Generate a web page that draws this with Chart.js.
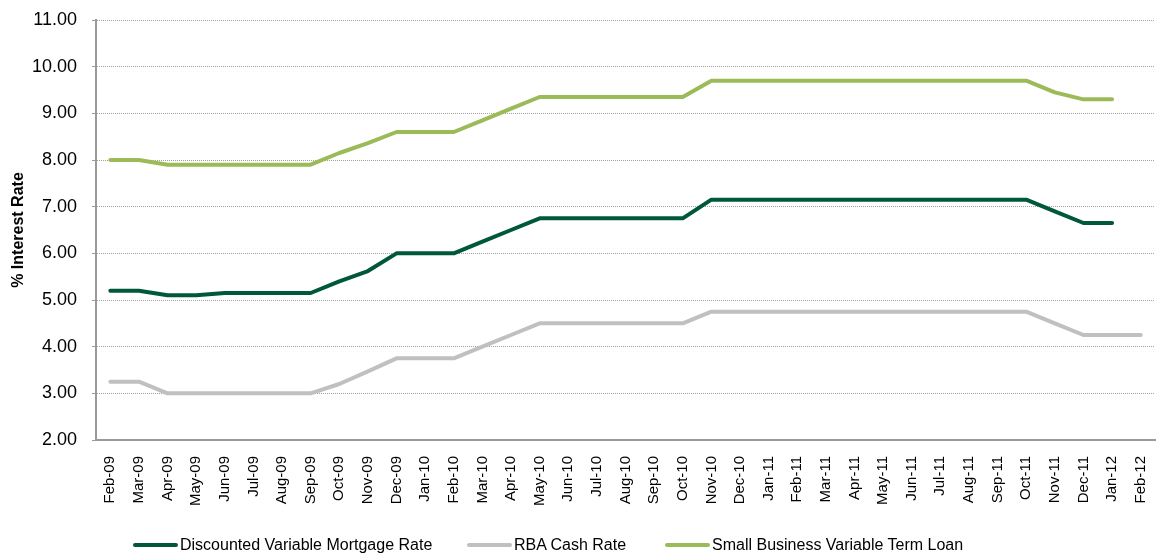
<!DOCTYPE html>
<html>
<head>
<meta charset="utf-8">
<script src="https://cdn.jsdelivr.net/npm/chart.js@4/dist/chart.umd.min.js"></script>
<style>
  html, body { margin:0; padding:0; background:#fff; }
  #wrap { position:relative; width:1160px; height:554px; }
  #legend { position:absolute; left:0; top:533px; width:1160px; height:24px;
    font-family:'Liberation Sans',Arial,sans-serif; font-size:16px; color:#000; }
  .item { position:absolute; top:0; white-space:nowrap; line-height:24px; }
  .swatch { display:inline-block; width:45px; height:4px; border-radius:2px; vertical-align:middle; margin-right:2px; position:relative; top:-1px; }
</style>
</head>
<body>
<div id="wrap">
  <canvas id="c" width="1160" height="554"></canvas>
  <div id="legend"></div>
</div>
<script>
var months = ['Feb-09','Mar-09','Apr-09','May-09','Jun-09','Jul-09','Aug-09','Sep-09','Oct-09','Nov-09','Dec-09',
  'Jan-10','Feb-10','Mar-10','Apr-10','May-10','Jun-10','Jul-10','Aug-10','Sep-10','Oct-10','Nov-10','Dec-10',
  'Jan-11','Feb-11','Mar-11','Apr-11','May-11','Jun-11','Jul-11','Aug-11','Sep-11','Oct-11','Nov-11','Dec-11',
  'Jan-12','Feb-12']

var mortgageRate = [5.20,5.20,5.10,5.10,5.15,5.15,5.15,5.15,5.40,5.62,6.00,
  6.00,6.00,6.25,6.50,6.75,6.75,6.75,6.75,6.75,6.75,7.15,7.15,
  7.15,7.15,7.15,7.15,7.15,7.15,7.15,7.15,7.15,7.15,6.90,6.65,
  6.65,null]

var cashRate = [3.25,3.25,3.00,3.00,3.00,3.00,3.00,3.00,3.20,3.47,3.75,
  3.75,3.75,4.00,4.25,4.50,4.50,4.50,4.50,4.50,4.50,4.75,4.75,
  4.75,4.75,4.75,4.75,4.75,4.75,4.75,4.75,4.75,4.75,4.50,4.25,
  4.25,4.25]

var businessLoan = [8.00,8.00,7.90,7.90,7.90,7.90,7.90,7.90,8.15,8.36,8.60,
  8.60,8.60,8.85,9.10,9.35,9.35,9.35,9.35,9.35,9.35,9.70,9.70,
  9.70,9.70,9.70,9.70,9.70,9.70,9.70,9.70,9.70,9.70,9.45,9.30,
  9.30,null]

var seriesNames = ['Discounted Variable Mortgage Rate','RBA Cash Rate','Small Business Variable Term Loan']
var seriesColors = ['#00583b','#c0c0c0','#9bbb59']

var FONT = "'Liberation Sans',Arial,sans-serif"

function line(label, data, color){
  return {
    label: label, data: data,
    borderColor: color, backgroundColor: color,
    borderWidth: 4, pointRadius: 0, pointHoverRadius: 0,
    borderCapStyle: 'round', borderJoinStyle: 'round',
    tension: 0, fill: false, spanGaps: false
  }
}

new Chart(document.getElementById('c'), {
  type: 'line',
  data: {
    labels: months,
    datasets: [
      line(seriesNames[0], mortgageRate, seriesColors[0]),
      line(seriesNames[1], cashRate, seriesColors[1]),
      line(seriesNames[2], businessLoan, seriesColors[2])
    ]
  },
  options: {
    responsive: false,
    animation: false,
    events: [],
    layout: { padding: { left: 9, right: 5, top: 20, bottom: 30 } },
    plugins: { legend: { display: false }, tooltip: { enabled: false } },
    scales: {
      x: {
        offset: true,
        grid: { display: false },
        border: { display: true, color: '#9a9a9a', width: 2 },
        ticks: {
          autoSkip: false, minRotation: 90, maxRotation: 90, padding: 8,
          color: '#000', font: { family: FONT, size: 15 }
        },
        afterFit: function(s){ s.height = 84; s.paddingLeft = 0; s.paddingRight = 0 }
      },
      y: {
        min: 2, max: 11,
        grid: { color: '#a0a0a0', lineWidth: 1, tickLength: 4, tickColor: '#9a9a9a', tickBorderDash: [] },
        border: { display: true, color: '#9a9a9a', width: 2, dash: [1, 1] },
        ticks: {
          stepSize: 1, padding: 15, color: '#000',
          font: { family: FONT, size: 18 },
          callback: function(v){ return v.toFixed(2) }
        },
        title: {
          display: true, text: '% Interest Rate', color: '#000',
          font: { family: FONT, size: 16, weight: 'bold' }, padding: { top: 0, bottom: 0 }
        },
        afterFit: function(s){ s.width = 87; s.paddingTop = 0; s.paddingBottom = 0 }
      }
    }
  }
})

// legend as html text
var legendX = [133, 467, 665]
var lg = document.getElementById('legend')
seriesNames.forEach(function(name, i){
  var d = document.createElement('div')
  d.className = 'item'
  d.style.left = legendX[i] + 'px'
  d.innerHTML = '<span class="swatch" style="background:' + seriesColors[i] + '"></span>' + name
  lg.appendChild(d)
})
</script>
</body>
</html>
